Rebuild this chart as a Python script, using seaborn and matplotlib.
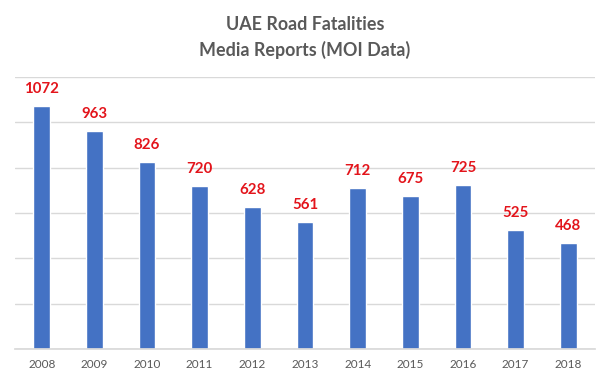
import matplotlib
matplotlib.use("Agg")
import matplotlib.pyplot as plt
import pandas as pd
import seaborn as sns

# ── Data ──────────────────────────────────────────────────────────────────────
years = ["2008", "2009", "2010", "2011", "2012", "2013",
         "2014", "2015", "2016", "2017", "2018"]
fatalities = [1072, 963, 826, 720, 628, 561, 712, 675, 725, 525, 468]
title_lines = ["UAE Road Fatalities", "Media Reports (MOI Data)"]

df = pd.DataFrame({"year": years, "fatalities": fatalities})

sns.set_theme(style="white")
plt.rcParams["font.family"] = ["Lato", "DejaVu Sans"]

fig = plt.figure(figsize=(6.1, 3.83), dpi=100)
ax = fig.add_axes([0.0252, 0.0888, 0.9496, 0.7102])

sns.barplot(data=df, x="year", y="fatalities", color="#4472C4",
            saturation=1, width=0.32, ax=ax)

ax.bar_label(ax.containers[0], labels=[str(v) for v in fatalities],
             padding=7, color="#E3141B", fontsize=10.8, fontweight="bold")

ax.set_ylim(0, 1200)
ax.set_yticks(range(0, 1201, 200))
ax.set_yticklabels([])
ax.tick_params(axis="y", length=0)
ax.tick_params(axis="x", length=0, pad=7, labelsize=8.5, labelcolor="#595959")
ax.yaxis.grid(True, color="#D9D9D9", linewidth=1)
ax.set_axisbelow(True)
ax.set_xlabel("")
ax.set_ylabel("")
for side in ["left", "right", "top"]:
    ax.spines[side].set_visible(False)
ax.spines["bottom"].set_color("#D9D9D9")

fig.text(0.5, 1 - 25 / 383, title_lines[0], ha="center", va="center",
         fontsize=12.9, fontweight="bold", color="#595959")
fig.text(0.5, 1 - 50 / 383, title_lines[1], ha="center", va="center",
         fontsize=12.9, fontweight="bold", color="#595959")

fig.savefig("out.png", dpi=100)
plt.close(fig)
